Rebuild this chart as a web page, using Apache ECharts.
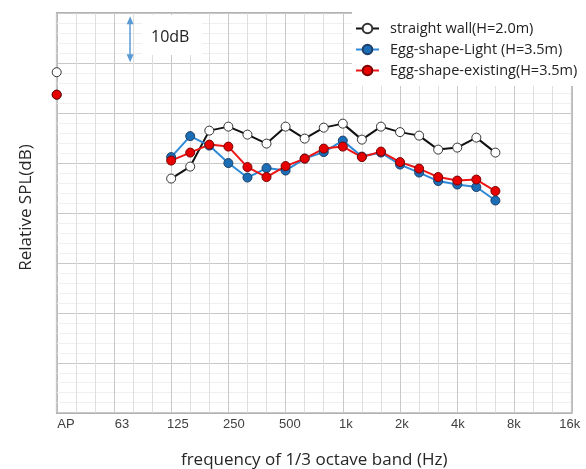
<!DOCTYPE html>
<html>
<head>
<meta charset="utf-8">
<script src="https://cdn.jsdelivr.net/npm/echarts@6/dist/echarts.min.js"></script>
<style>
html,body{margin:0;padding:0;background:#fff;}
#chart{width:586px;height:469px;}
</style>
</head>
<body>
<div id="chart"></div>
<script>
// 1/3-octave band positions: index 0 = AP, 1 = 40 Hz, 2 = 50 Hz, 3 = 63 Hz ... 27 = 16 kHz
var tickLabels = ['AP', '63', '125', '250', '500', '1k', '2k', '4k', '8k', '16k'];
var tickPositions = [0, 3, 6, 9, 12, 15, 18, 21, 24, 27];
var seriesNames = ['straight wall(H=2.0m)', 'Egg-shape-Light (H=3.5m)', 'Egg-shape-existing(H=3.5m)'];

// relative SPL (dB), one value per band index 0..23 (null = no data)
var straightWall = [8.2, null, null, null, null, null,
  -13.1, -10.7, -3.5, -2.7, -4.3, -6.1, -2.7, -5.1, -2.9, -2.1,
  -5.3, -2.7, -3.8, -4.5, -7.3, -6.9, -4.9, -7.9];
var eggLight = [3.7, null, null, null, null, null,
  -8.8, -4.6, -6.5, -10.0, -12.9, -11.0, -11.5, -9.1, -7.8, -5.5,
  -8.7, -7.9, -10.3, -11.9, -13.6, -14.3, -14.8, -17.5];
var eggExisting = [3.7, null, null, null, null, null,
  -9.5, -7.9, -6.3, -6.7, -10.8, -12.8, -10.6, -9.1, -7.1, -6.7,
  -8.8, -7.7, -9.8, -11.1, -12.8, -13.5, -13.3, -15.6];

function toPairs(arr) {
  return arr.map(function (v, i) { return [i, v === null ? '-' : v]; });
}

var chart = echarts.init(document.getElementById('chart'), null, {renderer: 'canvas'});

var axisFont = 'Open Sans';

function lineSeries(name, values, lineColor, fill, border, extra) {
  var s = {
    name: name,
    type: 'line',
    data: toPairs(values),
    connectNulls: false,
    clip: false,
    symbol: 'circle',
    symbolSize: 9,
    lineStyle: {color: lineColor, width: 2},
    itemStyle: {color: fill, borderColor: border, borderWidth: 1},
    emphasis: {disabled: true},
    animation: false
  };
  if (extra) { for (var k in extra) s[k] = extra[k]; }
  return s;
}

var option = {
  backgroundColor: '#ffffff',
  animation: false,
  grid: {
    left: 56.7, right: 14.3, top: 13.3, bottom: 56.3,
    containLabel: false,
    outerBoundsMode: 'none',
    show: true, borderColor: '#666666', borderWidth: 1.5, backgroundColor: '#ffffff'
  },
  legend: {
    orient: 'vertical',
    left: 352, top: 8,
    padding: [13, 20, 8, 3],
    backgroundColor: '#ffffff',
    itemWidth: 23, itemHeight: 12, itemGap: 6,
    data: seriesNames,
    textStyle: {fontFamily: axisFont, fontSize: 14.5, lineHeight: 15, color: '#222222', padding: [0, 0, 0, 6]}
  },
  xAxis: [{
    type: 'value',
    min: 0, max: 27, interval: 3,
    name: 'frequency of 1/3 octave band (Hz)',
    nameLocation: 'middle',
    nameGap: 39,
    nameTextStyle: {fontFamily: axisFont, fontSize: 17, color: '#262626'},
    axisLine: {show: false},
    axisTick: {show: false},
    axisLabel: {show: false},
    splitLine: {show: true, lineStyle: {color: '#c8c8c8', width: 1}},
    minorTick: {show: false, splitNumber: 3},
    minorSplitLine: {show: true, lineStyle: {color: '#dedede', width: 1}}
  }, {
    type: 'value',
    position: 'bottom',
    min: -0.498, max: 27.1,
    axisLine: {show: false},
    axisTick: {show: false},
    splitLine: {show: false},
    axisLabel: {
      show: true,
      customValues: tickPositions,
      margin: 5,
      fontFamily: 'Liberation Sans',
      fontSize: 13,
      color: '#404040',
      formatter: function (v) {
        var idx = tickPositions.indexOf(Math.round(v));
        return idx >= 0 ? tickLabels[idx] : '';
      }
    }
  }],
  yAxis: {
    type: 'value',
    min: -60, max: 20, interval: 10,
    name: 'Relative SPL(dB)',
    nameLocation: 'middle',
    nameGap: 22,
    nameTextStyle: {fontFamily: axisFont, fontSize: 17, color: '#262626', padding: [0, 0, 0, 11]},
    axisLine: {show: false},
    axisTick: {show: false},
    axisLabel: {show: false},
    splitLine: {show: true, lineStyle: {color: '#c8c8c8', width: 1}},
    minorTick: {show: false, splitNumber: 5},
    minorSplitLine: {show: true, lineStyle: {color: '#efefef', width: 1}}
  },
  series: [
    lineSeries(seriesNames[0], straightWall, '#111111', '#ffffff', '#333333', {
      markLine: {
        silent: true,
        symbol: ['triangle', 'triangle'],
        symbolSize: [7, 8],
        lineStyle: {color: '#5b9bd5', width: 1.5, type: 'solid'},
        label: {show: false},
        data: [[{coord: [3.85, 18.6]}, {coord: [3.85, 11.0]}]]
      }
    }),
    lineSeries(seriesNames[1], eggLight, '#2e8ad6', '#1b6db6', '#1d3f68'),
    lineSeries(seriesNames[2], eggExisting, '#ee1515', '#e60000', '#7a0000')
  ],
  graphic: [{
    type: 'rect',
    left: 142, top: 15,
    shape: {width: 60, height: 40},
    style: {fill: '#ffffff'},
    z: 10
  }, {
    type: 'text',
    left: 151, top: 29,
    style: {text: '10dB', fontFamily: axisFont, fontSize: 16, fill: '#222222'},
    z: 11
  }]
};

chart.setOption(option);
</script>
</body>
</html>
